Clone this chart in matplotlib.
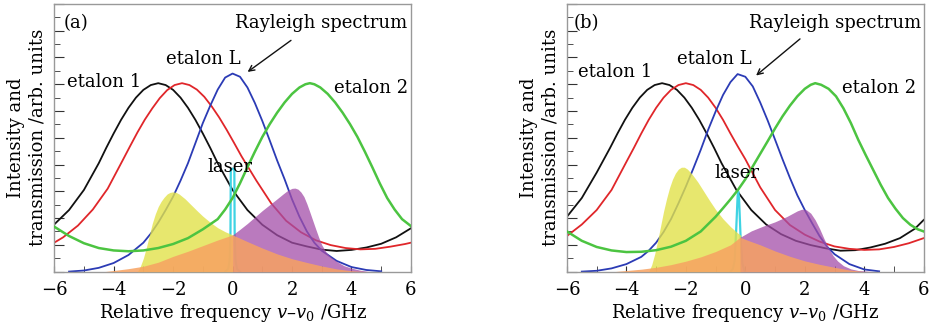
import matplotlib
matplotlib.use("Agg")
import matplotlib.pyplot as plt
from matplotlib.ticker import MultipleLocator

plt.rcParams['font.family'] = ['DejaVu Serif']
plt.rcParams['mathtext.fontset'] = 'dejavuserif'

# ---- panel (a) ----
black_a_x = [-6, -5.5, -5, -4.5, -4.25, -4, -3.75, -3.5, -3.25, -3, -2.75, -2.5, -2.25, -2,
             -1.75, -1.5, -1.25, -1, -0.75, -0.5, 0, 0.5, 1, 1.5, 2, 2.5, 3, 3.5, 4, 4.5,
             5, 5.5, 6]
black_a_y = [0.176, 0.23, 0.305, 0.405, 0.462, 0.516, 0.567, 0.612, 0.65, 0.679, 0.697, 0.704,
             0.697, 0.679, 0.65, 0.612, 0.567, 0.516, 0.462, 0.405, 0.305, 0.23, 0.175, 0.136,
             0.108, 0.094, 0.082, 0.077, 0.081, 0.09, 0.104, 0.128, 0.162]
red_a_x = [-6, -5.7, -5.2, -4.7, -4.2, -3.7, -3.45, -3.2, -2.95, -2.7, -2.45, -2.2, -1.95, -1.7,
           -1.45, -1.2, -0.95, -0.7, -0.45, -0.2, 0.05, 0.3, 0.8, 1.3, 1.8, 2.3, 2.8, 3.3, 3.8,
           4.3, 4.8, 5.3, 5.8, 6]
red_a_y = [0.108, 0.128, 0.172, 0.232, 0.31, 0.415, 0.468, 0.52, 0.568, 0.61, 0.648, 0.678,
           0.697, 0.704, 0.697, 0.68, 0.653, 0.617, 0.576, 0.53, 0.481, 0.431, 0.34, 0.255,
           0.19, 0.147, 0.117, 0.099, 0.088, 0.083, 0.085, 0.093, 0.103, 0.108]
green_a_x = [-6, -5.5, -5, -4.5, -4, -3.5, -3, -2.5, -2, -1.5, -1, -0.5, -0.25, 0, 0.25, 0.5,
             0.75, 1, 1.25, 1.5, 1.75, 2, 2.25, 2.45, 2.6, 2.75, 2.95, 3.2, 3.45, 3.7, 3.95,
             4.2, 4.45, 4.7, 4.95, 5.2, 5.45, 5.7, 6]
green_a_y = [0.168, 0.133, 0.106, 0.088, 0.079, 0.076, 0.079, 0.088, 0.103, 0.125, 0.158, 0.196,
             0.232, 0.275, 0.33, 0.39, 0.448, 0.503, 0.551, 0.594, 0.632, 0.664, 0.688, 0.70,
             0.704, 0.70, 0.688, 0.664, 0.632, 0.594, 0.551, 0.503, 0.448, 0.39, 0.33, 0.275,
             0.232, 0.196, 0.17]
blue_a_x = [-5.5, -5, -4.5, -4, -3.5, -3, -2.75, -2.5, -2.25, -2, -1.75, -1.5, -1.25, -1, -0.75,
            -0.5, -0.25, 0, 0.25, 0.5, 0.75, 1, 1.25, 1.5, 1.75, 2, 2.25, 2.5, 2.75, 3, 3.5,
            4, 4.5, 5]
blue_a_y = [0.0, 0.004, 0.014, 0.032, 0.062, 0.108, 0.142, 0.183, 0.23, 0.28, 0.34, 0.405, 0.48,
            0.555, 0.62, 0.68, 0.725, 0.74, 0.728, 0.688, 0.63, 0.563, 0.49, 0.415, 0.345, 0.27,
            0.205, 0.15, 0.108, 0.078, 0.04, 0.017, 0.006, 0.001]
yellow_a_x = [-3.2, -3.1, -3.0, -2.9, -2.8, -2.7, -2.6, -2.5, -2.4, -2.3, -2.2, -2.1, -2.0, -1.9,
              -1.8, -1.6, -1.4, -1.2, -1.0, -0.75, -0.5, -0.25, 0.0]
yellow_a_y = [0, 0.02, 0.05, 0.09, 0.135, 0.18, 0.215, 0.243, 0.263, 0.278, 0.29, 0.296, 0.298,
              0.296, 0.29, 0.272, 0.25, 0.228, 0.207, 0.184, 0.164, 0.149, 0.137]
orange_a_x = [-4.3, -4.0, -3.5, -3.0, -2.5, -2.0, -1.5, -1.0, -0.5, 0.0, 0.5, 1.0, 1.5, 2.0,
              2.5, 3.0, 3.5, 4.0, 4.5]
orange_a_y = [0, 0.004, 0.011, 0.02, 0.035, 0.057, 0.076, 0.097, 0.118, 0.137, 0.112, 0.088,
              0.066, 0.048, 0.034, 0.021, 0.01, 0.003, 0]
purple_a_x = [0, 0.25, 0.5, 0.75, 1, 1.25, 1.5, 1.7, 1.85, 2.0, 2.1, 2.2, 2.3, 2.4, 2.5, 2.6,
              2.7, 2.8, 2.9, 3.0, 3.15, 3.3, 3.5, 3.75, 4.0, 4.3, 4.6]
purple_a_y = [0.137, 0.158, 0.18, 0.204, 0.228, 0.25, 0.272, 0.29, 0.303, 0.311, 0.312, 0.308,
              0.297, 0.28, 0.253, 0.222, 0.19, 0.158, 0.127, 0.10, 0.072, 0.055, 0.038, 0.022,
              0.013, 0.005, 0]
laser_a_x = [-0.25, -0.15, -0.1, -0.07, -0.06, 0.0, 0.06, 0.07, 0.1, 0.15, 0.25]
laser_a_y = [0, 0.01, 0.04, 0.15, 0.38, 0.385, 0.38, 0.15, 0.04, 0.01, 0]

# ---- panel (b) ----
black_b_x = [-6, -5.5, -5, -4.55, -4.3, -4.05, -3.8, -3.55, -3.3, -3.05, -2.8, -2.55, -2.3,
             -2.05, -1.8, -1.55, -1.3, -1.05, -0.8, -0.3, 0.2, 0.7, 1.2, 1.7, 2.2, 2.7, 3.2,
             3.7, 4.2, 4.7, 5.2, 5.7, 6]
black_b_y = [0.205, 0.275, 0.37, 0.462, 0.516, 0.567, 0.612, 0.65, 0.679, 0.697, 0.704, 0.697,
             0.679, 0.65, 0.612, 0.567, 0.516, 0.462, 0.405, 0.305, 0.23, 0.176, 0.14, 0.115,
             0.099, 0.087, 0.078, 0.08, 0.09, 0.104, 0.125, 0.16, 0.193]
red_b_x = [-6, -5.5, -5, -4.5, -4, -3.75, -3.5, -3.25, -3, -2.75, -2.5, -2.25, -2, -1.75, -1.5,
           -1.25, -1, -0.75, -0.5, -0.25, 0, 0.5, 1, 1.5, 2, 2.5, 3, 3.5, 4, 4.5, 5, 5.5, 6]
red_b_y = [0.133, 0.176, 0.23, 0.305, 0.41, 0.462, 0.516, 0.567, 0.612, 0.65, 0.679, 0.697,
           0.704, 0.697, 0.679, 0.65, 0.612, 0.567, 0.516, 0.467, 0.42, 0.315, 0.23, 0.174,
           0.138, 0.112, 0.094, 0.085, 0.081, 0.083, 0.092, 0.106, 0.125]
green_b_x = [-6, -5.5, -5, -4.5, -4, -3.5, -3, -2.5, -2, -1.5, -1, -0.75, -0.5, -0.25, 0, 0.25,
             0.5, 0.75, 1.0, 1.25, 1.5, 1.75, 2.0, 2.2, 2.35, 2.55, 2.8, 3.05, 3.3, 3.55, 3.8,
             4.05, 4.3, 4.55, 4.8, 5.05, 5.3, 5.55, 5.8, 6]
green_b_y = [0.15, 0.115, 0.092, 0.079, 0.073, 0.074, 0.08, 0.093, 0.115, 0.15, 0.205, 0.237,
             0.27, 0.305, 0.345, 0.393, 0.44, 0.487, 0.535, 0.58, 0.62, 0.655, 0.683, 0.698,
             0.704, 0.698, 0.683, 0.655, 0.61, 0.555, 0.492, 0.435, 0.38, 0.325, 0.275, 0.235,
             0.20, 0.175, 0.158, 0.15]
blue_b_x = [-5.5, -5, -4.5, -4, -3.5, -3.25, -3, -2.75, -2.5, -2.25, -2, -1.75, -1.5, -1.25, -1,
            -0.75, -0.5, -0.26, 0, 0.25, 0.5, 0.75, 1.0, 1.25, 1.5, 1.75, 2.0, 2.25, 2.5, 2.75,
            3.0, 3.5, 4.0, 4.5]
blue_b_y = [0, 0.003, 0.012, 0.028, 0.055, 0.078, 0.108, 0.148, 0.196, 0.255, 0.318, 0.385,
            0.455, 0.53, 0.598, 0.66, 0.708, 0.738, 0.728, 0.692, 0.632, 0.565, 0.493, 0.42,
            0.35, 0.285, 0.23, 0.18, 0.132, 0.093, 0.065, 0.028, 0.008, 0.001]
yellow_b_x = [-3.25, -3.15, -3.05, -2.95, -2.85, -2.75, -2.65, -2.55, -2.45, -2.35, -2.25,
              -2.15, -2.05, -1.95, -1.8, -1.6, -1.4, -1.2, -1.0, -0.75, -0.5, -0.3, -0.15]
yellow_b_y = [0, 0.025, 0.065, 0.115, 0.17, 0.225, 0.272, 0.313, 0.345, 0.368, 0.383, 0.39,
              0.39, 0.383, 0.365, 0.335, 0.30, 0.265, 0.232, 0.197, 0.168, 0.148, 0.135]
orange_b_x = [-4.4, -4, -3.5, -3, -2.5, -2, -1.5, -1, -0.5, -0.18, 0.2, 0.5, 1, 1.5, 2, 2.5,
              3, 3.5, 4]
orange_b_y = [0, 0.004, 0.009, 0.016, 0.026, 0.039, 0.055, 0.075, 0.1, 0.128, 0.112, 0.1, 0.077,
              0.057, 0.04, 0.027, 0.016, 0.006, 0]
purple_b_x = [-0.18, 0.2, 0.6, 1.0, 1.4, 1.6, 1.75, 1.9, 2.05, 2.2, 2.35, 2.5, 2.65, 2.8, 2.95,
              3.1, 3.3, 3.55, 3.8, 4.3]
purple_b_y = [0.128, 0.152, 0.17, 0.186, 0.206, 0.218, 0.227, 0.233, 0.231, 0.218, 0.193, 0.16,
              0.122, 0.088, 0.06, 0.04, 0.022, 0.01, 0.004, 0]
laser_b_x = [-0.5, -0.42, -0.36, -0.31, -0.26, -0.24, -0.21, -0.16, -0.1, -0.02]
laser_b_y = [0, 0.01, 0.04, 0.15, 0.28, 0.30, 0.27, 0.13, 0.03, 0]

panels = [
    dict(tag='(a)', black=(black_a_x, black_a_y), red=(red_a_x, red_a_y),
         green=(green_a_x, green_a_y), blue=(blue_a_x, blue_a_y),
         yellow=(yellow_a_x, yellow_a_y), orange=(orange_a_x, orange_a_y),
         purple=(purple_a_x, purple_a_y), laser=(laser_a_x, laser_a_y),
         txt={'Rayleigh spectrum': (2.98, 0.93), 'etalon L': (-0.99, 0.795),
              'etalon 1': (-4.32, 0.71), 'etalon 2': (4.67, 0.686), 'laser': (-0.08, 0.39)},
         arrow=((2.04, 0.87), (0.43, 0.74)), tagpos=(-5.68, 0.93)),
    dict(tag='(b)', black=(black_b_x, black_b_y), red=(red_b_x, red_b_y),
         green=(green_b_x, green_b_y), blue=(blue_b_x, blue_b_y),
         yellow=(yellow_b_x, yellow_b_y), orange=(orange_b_x, orange_b_y),
         purple=(purple_b_x, purple_b_y), laser=(laser_b_x, laser_b_y),
         txt={'Rayleigh spectrum': (3.03, 0.93), 'etalon L': (-1.04, 0.795),
              'etalon 1': (-4.39, 0.747), 'etalon 2': (4.51, 0.686), 'laser': (-0.27, 0.37)},
         arrow=((1.91, 0.876), (0.29, 0.726)), tagpos=(-5.78, 0.93)),
]

fig = plt.figure(figsize=(9.34, 3.30), dpi=100)
lefts = [0.058, 0.607]
for p, left in zip(panels, lefts):
    ax = fig.add_axes([left, 0.177, 0.382, 0.811])
    ax.plot(*p['black'], color='#111111', lw=1.3, zorder=2)
    ax.plot(*p['red'], color='#e0262a', lw=1.3, zorder=2)
    ax.plot(*p['blue'], color='#2b3bb5', lw=1.3, zorder=2)
    ax.plot(*p['laser'], color='#3fd3e3', lw=1.6, zorder=2)
    ax.fill_between(*p['yellow'], color='#e2e24a', alpha=0.8, lw=0, zorder=3)
    ax.fill_between(*p['purple'], color='#a34ea8', alpha=0.75, lw=0, zorder=3)
    ax.fill_between(*p['orange'], color='#f7a262', alpha=0.85, lw=0, zorder=4)
    ax.plot(*p['green'], color='#4cc441', lw=1.8, zorder=5)

    for s, (x, y) in p['txt'].items():
        ax.text(x, y, s, ha='center', va='center', fontsize=13, zorder=6)
    ax.text(*p['tagpos'], p['tag'], ha='left', va='center', fontsize=13)
    (x0, y0), (x1, y1) = p['arrow']
    ax.annotate('', xy=(x1, y1), xytext=(x0, y0),
                arrowprops=dict(arrowstyle='->', color='#111111', lw=1.0))

    ax.set_xlim(-6, 6)
    ax.set_ylim(0, 1)
    ax.xaxis.set_major_locator(MultipleLocator(2))
    ax.xaxis.set_minor_locator(MultipleLocator(1))
    ax.yaxis.set_major_locator(MultipleLocator(0.1))
    ax.yaxis.set_minor_locator(MultipleLocator(0.05))
    ax.set_yticklabels([])
    ax.tick_params(which='both', direction='in', color='#333333', top=False, right=False)
    ax.tick_params(axis='x', which='both', length=4.5, labelsize=13, pad=7)
    ax.tick_params(axis='y', which='major', length=7)
    ax.tick_params(axis='y', which='minor', length=4)
    for sp in ax.spines.values():
        sp.set_color('#999999')
        sp.set_linewidth(1.0)
    ax.set_xlabel(r'Relative frequency $v$–$v_0$ /GHz', fontsize=13, labelpad=2)
    ax.set_ylabel('Intensity and\ntransmission /arb. units', fontsize=13,
                  linespacing=1.25, labelpad=2)

fig.savefig('out.png', dpi=100)
